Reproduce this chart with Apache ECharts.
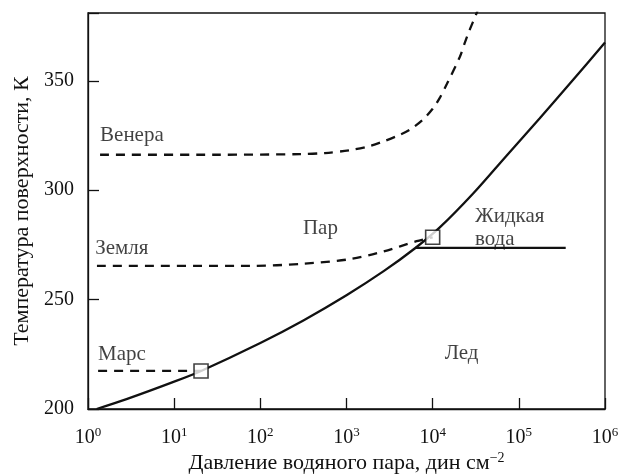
<!DOCTYPE html>
<html lang="ru">
<head>
    <meta charset="UTF-8">
    <title>Давление водяного пара</title>
    <script src="https://cdn.jsdelivr.net/npm/echarts@6/dist/echarts.min.js"></script>
    <style>
        html, body { margin: 0; padding: 0; background: #fff; }
        #chart { width: 619px; height: 474px; }
    </style>
</head>
<body>
<div id="chart"></div>
<script type="text/javascript">
    // кривая насыщения (лед / вода): давление, дин/см2 и температура, K
    var satP = [1.26, 2.8, 10, 20.5, 100, 316, 1000, 2700, 6300, 12100, 29500, 72000, 175000, 427000, 1000000];
    var satT = [200, 204.5, 212.5, 217.4, 230.2, 240.5, 252, 263, 273.6, 283, 298.5, 315.8, 332.9, 350.5, 367.5];

    // планеты (пунктир)
    var venusP = [1.38, 30, 290, 560, 1100, 1780, 2630, 3980, 5500, 7600, 10000, 12000, 14600, 20700, 23400, 26900, 32400, 36000];
    var venusT = [316.2, 316.2, 316.5, 317, 318.3, 320, 322.2, 325, 327.8, 332, 337.2, 342, 348.5, 361, 367, 373.3, 381, 386];
    var earthP = [1.27, 76, 316, 1100, 2700, 6500, 10000];
    var earthT = [265.4, 265.4, 266.4, 268.5, 272, 276.7, 278.5];
    var marsP = [1.31, 20.5];
    var marsT = [217.4, 217.4];

    // граница лед / жидкая вода
    var meltP = [6300, 350000];
    var meltT = [273.6, 273.6];

    // квадратики: Марс, Земля
    var boxP = [20.5, 10000];
    var boxT = [217.4, 278.5];

    // подписи
    var labelNames = ['Венера', 'Земля', 'Марс', 'Пар', 'Жидкая\nвода', 'Лед'];
    var labelP = [1.38, 1.21, 1.31, 312, 30900, 13800];
    var labelT = [325.0, 273.2, 224.9, 282.3, 282.8, 225.2];

    var yTicks = [200, 250, 300, 350];

    function pairs(xs, ys) {
        var out = [];
        for (var i = 0; i < xs.length; i++) {
            out.push([xs[i], ys[i]]);
        }
        return out;
    }

    var font = 'Liberation Serif';
    var ink = '#111';

    var myChart = echarts.init(document.getElementById('chart'));

    var dashed = { color: ink, width: 2.3, type: [9, 7] };
    var solid = { color: ink, width: 2.3 };

    var labelData = [];
    for (var i = 0; i < labelNames.length; i++) {
        labelData.push({ name: labelNames[i], value: [labelP[i], labelT[i]] });
    }

    var option = {
        animation: false,
        grid: {
            left: 88, right: 14, top: 13, bottom: 65,
            outerBoundsMode: 'none',
            containLabel: false,
            show: true, borderColor: ink, borderWidth: 1.3
        },
        xAxis: {
            type: 'log',
            logBase: 10,
            min: 1,
            max: 1000000,
            name: 'Давление водяного пара, дин см{e|−2}',
            nameLocation: 'middle',
            nameGap: 42,
            nameMoveOverlap: false,
            nameTextStyle: {
                fontFamily: font, fontSize: 22, color: ink, lineHeight: 24,
                rich: { e: { fontFamily: font, fontSize: 14, lineHeight: 14, verticalAlign: 'top', color: ink } }
            },
            axisLine: { show: true, lineStyle: { color: ink, width: 1.3 } },
            axisTick: { show: true, inside: true, length: 11, lineStyle: { color: ink, width: 1.3 } },
            minorTick: { show: false },
            splitLine: { show: false },
            axisLabel: {
                margin: 17,
                fontFamily: font, fontSize: 20, color: ink, lineHeight: 24,
                formatter: function (v) {
                    return '10{e|' + Math.round(Math.log10(v)) + '}';
                },
                rich: { e: { fontFamily: font, fontSize: 13, lineHeight: 13, verticalAlign: 'top', color: ink } }
            }
        },
        yAxis: {
            type: 'value',
            min: 200,
            max: 381,
            interval: 50,
            name: 'Температура поверхности, К',
            nameLocation: 'middle',
            nameGap: 53,
            nameTextStyle: { fontFamily: font, fontSize: 22, color: ink, lineHeight: 22 },
            axisLine: { show: true, lineStyle: { color: ink, width: 1.3 } },
            axisTick: { show: true, inside: true, length: 11, lineStyle: { color: ink, width: 1.3 } },
            splitLine: { show: false },
            axisLabel: {
                margin: 14,
                fontFamily: font, fontSize: 20, color: ink,
                formatter: function (v) {
                    return yTicks.indexOf(v) >= 0 ? String(v) : '';
                }
            }
        },
        series: [
            {
                type: 'line', data: pairs(satP, satT), smooth: 0.3,
                showSymbol: false, lineStyle: solid, silent: true, z: 3
            },
            {
                type: 'line', data: pairs(venusP, venusT), smooth: 0.3,
                showSymbol: false, lineStyle: dashed, silent: true, z: 3
            },
            {
                type: 'line', data: pairs(earthP, earthT), smooth: 0.3,
                showSymbol: false, lineStyle: dashed, silent: true, z: 3
            },
            {
                type: 'line', data: pairs(marsP, marsT),
                showSymbol: false, lineStyle: dashed, silent: true, z: 3
            },
            {
                type: 'line', data: pairs(meltP, meltT),
                showSymbol: false, lineStyle: solid, silent: true, z: 3
            },
            {
                type: 'scatter', data: pairs(boxP, boxT),
                symbol: 'rect', symbolSize: 14, silent: true, z: 5,
                itemStyle: { color: '#fff', borderColor: ink, borderWidth: 1.6 }
            },
            {
                type: 'scatter', data: labelData, symbolSize: 0, silent: true, z: 6,
                label: {
                    show: true, position: 'right', distance: 0,
                    formatter: '{b}', align: 'left', verticalAlign: 'middle',
                    fontFamily: font, fontSize: 21, lineHeight: 23, color: ink
                }
            }
        ]
    };

    myChart.setOption(option);
</script>
</body>
</html>
